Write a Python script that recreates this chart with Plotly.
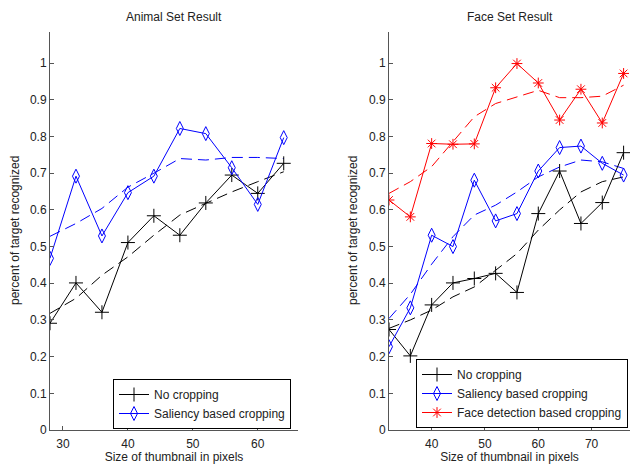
import plotly.graph_objects as go

# Animal set
animal_x = [28, 32, 36, 40, 44, 48, 52, 56, 60, 64]
animal_nocrop = [0.291, 0.401, 0.321, 0.511, 0.584, 0.531, 0.619, 0.695, 0.645, 0.727]
animal_saliency = [0.468, 0.692, 0.529, 0.647, 0.692, 0.822, 0.808, 0.715, 0.615, 0.797]
animal_nocrop_fit = [0.318, 0.359, 0.422, 0.472, 0.531, 0.586, 0.618, 0.649, 0.677, 0.704]
animal_saliency_fit = [0.528, 0.563, 0.604, 0.662, 0.700, 0.740, 0.736, 0.743, 0.743, 0.740]

# Face set
face_x = [32, 36, 40, 44, 48, 52, 56, 60, 64, 68, 72, 76]
face_nocrop = [0.274, 0.202, 0.341, 0.401, 0.413, 0.427, 0.375, 0.590, 0.706, 0.563, 0.620, 0.756]
face_saliency = [0.227, 0.333, 0.531, 0.500, 0.681, 0.570, 0.590, 0.706, 0.770, 0.774, 0.727, 0.695]
face_facedet = [0.627, 0.581, 0.781, 0.779, 0.780, 0.933, 0.999, 0.946, 0.845, 0.929, 0.837, 0.972]
face_nocrop_fit = [0.277, 0.300, 0.327, 0.363, 0.390, 0.436, 0.481, 0.545, 0.600, 0.649, 0.677, 0.690]
face_saliency_fit = [0.304, 0.370, 0.452, 0.527, 0.586, 0.613, 0.649, 0.690, 0.717, 0.736, 0.731, 0.713]
face_facedet_fit = [0.645, 0.677, 0.718, 0.785, 0.854, 0.890, 0.908, 0.926, 0.906, 0.906, 0.910, 0.940]

y_ticks = [0, 0.1, 0.2, 0.3, 0.4, 0.5, 0.6, 0.7, 0.8, 0.9, 1]
y_tick_labels = ["0", "0.1", "0.2", "0.3", "0.4", "0.5", "0.6", "0.7", "0.8", "0.9", "1"]
animal_xticks = [30, 40, 50, 60]
face_xticks = [40, 50, 60, 70]

titles = ["Animal Set Result", "Face Set Result"]
names = ["No cropping", "Saliency based cropping", "Face detection based cropping"]
xlabel = "Size of thumbnail in pixels"
ylabel = "percent of target recognized"

BLACK = "#000000"
BLUE = "#0000ff"
RED = "#ff0000"
DASH = "11px,6px"

fig = go.Figure()

def solid(x, y, name, color, symbol, size, xa, ya, legend):
    fig.add_trace(go.Scatter(
        x=x, y=y, name=name, mode="lines+markers",
        line=dict(color=color, width=1),
        marker=dict(symbol=symbol, size=size, color=color,
                    line=dict(color=color, width=1)),
        xaxis=xa, yaxis=ya, legend=legend, showlegend=True))

def dashed(x, y, color, xa, ya):
    fig.add_trace(go.Scatter(
        x=x, y=y, mode="lines", line=dict(color=color, width=1, dash=DASH),
        xaxis=xa, yaxis=ya, showlegend=False, hoverinfo="skip"))

# Left
dashed(animal_x, animal_nocrop_fit, BLACK, "x", "y")
dashed(animal_x, animal_saliency_fit, BLUE, "x", "y")
solid(animal_x, animal_nocrop, names[0], BLACK, "cross-thin-open", 10, "x", "y", "legend")
solid(animal_x, animal_saliency, names[1], BLUE, "diamond-tall-open", 10, "x", "y", "legend")

# Right
dashed(face_x, face_nocrop_fit, BLACK, "x2", "y2")
dashed(face_x, face_saliency_fit, BLUE, "x2", "y2")
dashed(face_x, face_facedet_fit, RED, "x2", "y2")
solid(face_x, face_nocrop, names[0], BLACK, "cross-thin-open", 10, "x2", "y2", "legend2")
solid(face_x, face_saliency, names[1], BLUE, "diamond-tall-open", 10, "x2", "y2", "legend2")
solid(face_x, face_facedet, names[2], RED, "asterisk-open", 9, "x2", "y2", "legend2")

W, H = 630, 464
FONT = "Liberation Sans, Arial, sans-serif"
AX = "#555555"
TXT = "#222222"

def px_x(p):
    return p / W

def px_y(p):
    return (H - p) / H

common_axis = dict(showline=True, linecolor=AX, linewidth=1, ticks="inside",
                   ticklen=4, tickcolor=AX, showgrid=False, zeroline=False,
                   automargin=False,
                   tickfont=dict(size=12, color=TXT, family=FONT))

ydom = [px_y(430), px_y(32)]
ymid = px_y(231)

fig.update_layout(
    width=W, height=H,
    margin=dict(l=0, r=0, t=0, b=0, pad=0),
    paper_bgcolor="white", plot_bgcolor="white",
    font=dict(family=FONT, size=12, color=TXT),
    xaxis=dict(domain=[px_x(50), px_x(298)], range=[28, 66.2], tickvals=animal_xticks,
               ticklabelstandoff=3,
               title=dict(text=xlabel, standoff=6, font=dict(size=12)), anchor="y", **common_axis),
    yaxis=dict(domain=ydom, range=[0, 1.085], tickvals=y_ticks, ticktext=y_tick_labels,
               anchor="x", **common_axis),
    xaxis2=dict(domain=[px_x(389), 1.0], range=[32, 77.2], tickvals=face_xticks,
                ticklabelstandoff=3,
                title=dict(text=xlabel, standoff=6, font=dict(size=12)), anchor="y2", **common_axis),
    yaxis2=dict(domain=ydom, range=[0, 1.085], tickvals=y_ticks, ticktext=y_tick_labels,
                anchor="x2", **common_axis),
    legend=dict(x=px_x(291), y=px_y(429), xanchor="right", yanchor="bottom",
                bgcolor="white", bordercolor="#000000", borderwidth=1, itemwidth=30,
                font=dict(size=12, color=TXT), tracegroupgap=0),
    legend2=dict(x=px_x(628), y=px_y(428), xanchor="right", yanchor="bottom",
                 bgcolor="white", bordercolor="#000000", borderwidth=1, itemwidth=30,
                 font=dict(size=12, color=TXT), tracegroupgap=0),
    annotations=[
        dict(text=titles[0], x=(px_x(50) + px_x(298)) / 2, y=px_y(17), xref="paper", yref="paper",
             xanchor="center", yanchor="middle",
             showarrow=False, font=dict(size=12, color=TXT)),
        dict(text=titles[1], x=(px_x(389) + 1.0) / 2, y=px_y(17), xref="paper", yref="paper",
             xanchor="center", yanchor="middle",
             showarrow=False, font=dict(size=12, color=TXT)),
        dict(text=ylabel, x=px_x(15), y=ymid, xref="paper", yref="paper",
             xanchor="center", yanchor="middle", textangle=-90,
             showarrow=False, font=dict(size=12, color=TXT)),
        dict(text=ylabel, x=px_x(353), y=ymid, xref="paper", yref="paper",
             xanchor="center", yanchor="middle", textangle=-90,
             showarrow=False, font=dict(size=12, color=TXT)),
    ],
)

fig.write_html(
    "out.html",
    config={"displayModeBar": False},
    post_script="document.body.style.margin='0px';document.body.style.overflow='hidden';",
)
